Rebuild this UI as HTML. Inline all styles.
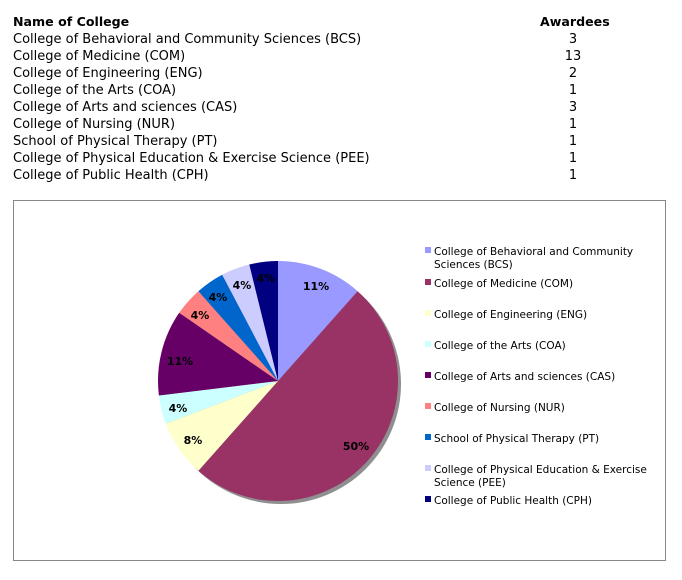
<!DOCTYPE html>
<html><head><style>
body{margin:0;width:682px;height:580px;background:#fff;font-family:"DejaVu Sans","Liberation Sans",sans-serif;position:relative;overflow:hidden}
.t{position:absolute;font-size:13px;color:#000;white-space:nowrap}
.n{position:absolute;font-size:13px;width:40px;text-align:center;left:553px}
.box{position:absolute;left:13px;top:200px;width:653px;height:361px;border:1px solid #888;box-sizing:border-box}
</style></head><body>
<div class="t" style="left:13px;top:14px;font-weight:bold;font-size:12.6px">Name of College</div>
<div class="t" style="left:540px;top:14px;font-weight:bold;font-size:12.6px">Awardees</div>
<div class="t" style="left:13px;top:32px">College of Behavioral and Community Sciences (BCS)</div><div class="n" style="top:32px">3</div>
<div class="t" style="left:13px;top:49px">College of Medicine (COM)</div><div class="n" style="top:49px">13</div>
<div class="t" style="left:13px;top:66px">College of Engineering (ENG)</div><div class="n" style="top:66px">2</div>
<div class="t" style="left:13px;top:83px">College of the Arts (COA)</div><div class="n" style="top:83px">1</div>
<div class="t" style="left:13px;top:100px">College of Arts and sciences (CAS)</div><div class="n" style="top:100px">3</div>
<div class="t" style="left:13px;top:117px">College of Nursing (NUR)</div><div class="n" style="top:117px">1</div>
<div class="t" style="left:13px;top:134px">School of Physical Therapy (PT)</div><div class="n" style="top:134px">1</div>
<div class="t" style="left:13px;top:151px">College of Physical Education &amp; Exercise Science (PEE)</div><div class="n" style="top:151px">1</div>
<div class="t" style="left:13px;top:168px">College of Public Health (CPH)</div><div class="n" style="top:168px">1</div>
<div class="box"></div>
<svg width="682" height="580" style="position:absolute;left:0;top:0" font-family="DejaVu Sans, sans-serif">
<circle cx="281" cy="384" r="120" fill="#444" opacity="0.6"/>
<g stroke="none">
<path d="M278,381 L278,261 A120,120 0 0 1 357.6,291.2Z" fill="#9999ff"/>
<path d="M278,381 L357.6,291.2 A120,120 0 0 1 198.4,470.8Z" fill="#993366"/>
<path d="M278,381 L198.4,470.8 A120,120 0 0 1 165.8,423.6Z" fill="#ffffcc"/>
<path d="M278,381 L165.8,423.6 A120,120 0 0 1 158.9,395.5Z" fill="#ccffff"/>
<path d="M278,381 L158.9,395.5 A120,120 0 0 1 179.2,312.8Z" fill="#660066"/>
<path d="M278,381 L179.2,312.8 A120,120 0 0 1 198.4,291.2Z" fill="#ff8080"/>
<path d="M278,381 L198.4,291.2 A120,120 0 0 1 222.2,274.7Z" fill="#0066cc"/>
<path d="M278,381 L222.2,274.7 A120,120 0 0 1 249.3,264.5Z" fill="#ccccff"/>
<path d="M278,381 L249.3,264.5 A120,120 0 0 1 278,261Z" fill="#000080"/>
</g>
<g font-size="11" font-weight="bold" fill="#000" text-anchor="middle">
<text x="316" y="290">11%</text><text x="356" y="450">50%</text><text x="193" y="444">8%</text>
<text x="178" y="412">4%</text><text x="180" y="365">11%</text><text x="200" y="319">4%</text>
<text x="218" y="301">4%</text><text x="242" y="289">4%</text><text x="266" y="282">4%</text>
</g>
<g font-size="10.5" fill="#000">
<rect x="425" y="247" width="6" height="6" fill="#9999ff"/><text x="434" y="255">College of Behavioral and Community</text><text x="434" y="268">Sciences (BCS)</text>
<rect x="425" y="279" width="6" height="6" fill="#993366"/><text x="434" y="287">College of Medicine (COM)</text>
<rect x="425" y="310" width="6" height="6" fill="#ffffcc"/><text x="434" y="318">College of Engineering (ENG)</text>
<rect x="425" y="341" width="6" height="6" fill="#ccffff"/><text x="434" y="349">College of the Arts (COA)</text>
<rect x="425" y="372" width="6" height="6" fill="#660066"/><text x="434" y="380">College of Arts and sciences (CAS)</text>
<rect x="425" y="403" width="6" height="6" fill="#ff8080"/><text x="434" y="411">College of Nursing (NUR)</text>
<rect x="425" y="434" width="6" height="6" fill="#0066cc"/><text x="434" y="442">School of Physical Therapy (PT)</text>
<rect x="425" y="465" width="6" height="6" fill="#ccccff"/><text x="434" y="473">College of Physical Education &amp; Exercise</text><text x="434" y="486">Science (PEE)</text>
<rect x="425" y="496" width="6" height="6" fill="#000080"/><text x="434" y="504">College of Public Health (CPH)</text>
</g>
</svg>
</body></html>
